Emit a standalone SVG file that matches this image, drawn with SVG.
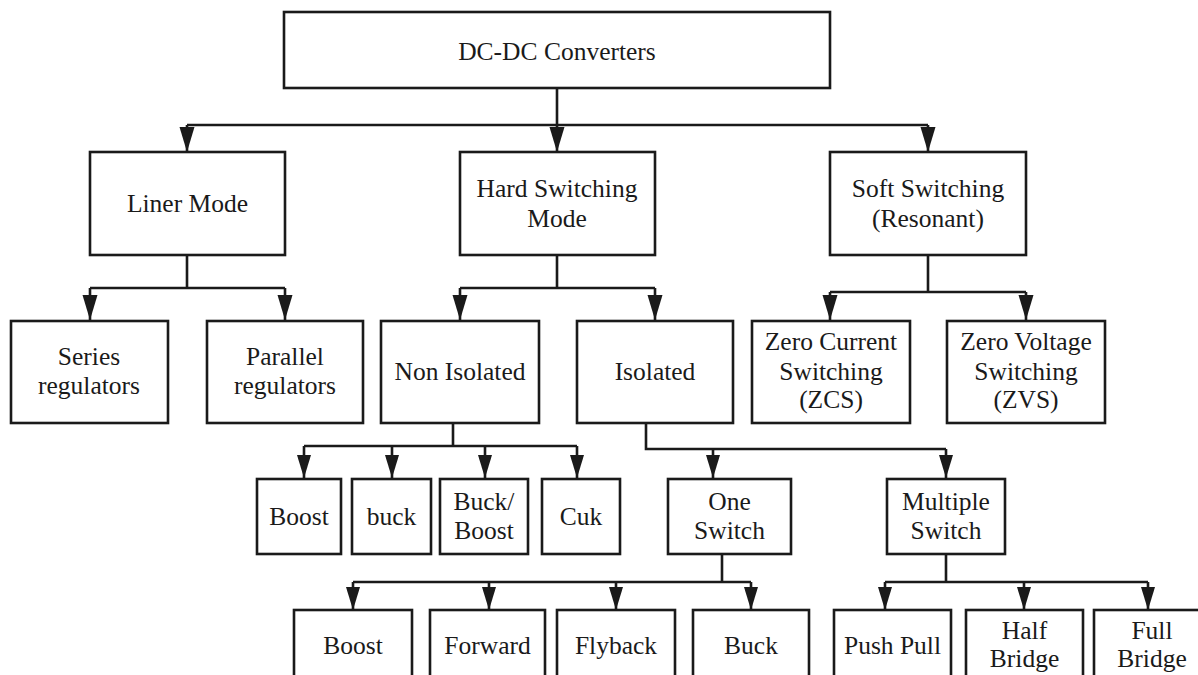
<svg xmlns="http://www.w3.org/2000/svg" width="1198" height="675" viewBox="0 0 1198 675">
<defs>
<style>
.box{fill:#fff;stroke:#1a1a1a;stroke-width:2.6}
.t{font-family:"Liberation Serif","Times New Roman",serif;font-size:25.5px;fill:#1a1a1a;text-anchor:middle}
.c{fill:none;stroke:#1a1a1a;stroke-width:2.6}
.ca{fill:none;stroke:#1a1a1a;stroke-width:2.6;marker-end:url(#aL)}
.cs{fill:none;stroke:#1a1a1a;stroke-width:2.6;marker-end:url(#aS)}
</style>
<marker id="aL" markerUnits="userSpaceOnUse" markerWidth="25" markerHeight="16" refX="25" refY="8" orient="auto" viewBox="0 0 25 16"><path d="M0,0.5 L25,8 L0,15.5 z" fill="#1a1a1a"/></marker>
<marker id="aS" markerUnits="userSpaceOnUse" markerWidth="23" markerHeight="15" refX="23" refY="7.5" orient="auto" viewBox="0 0 23 15"><path d="M0,0.5 L23,7.5 L0,14.5 z" fill="#1a1a1a"/></marker>
</defs>
<rect width="1198" height="675" fill="#fff"/>
<g id="connectors">
<path class="c" d="M557,88 V125 M187,125 H928"/>
<path class="ca" d="M187,125 V152"/>
<path class="ca" d="M557,125 V152"/>
<path class="ca" d="M928,125 V152"/>
<path class="c" d="M187,255 V288 M90,288 H285"/>
<path class="ca" d="M90,288 V320"/>
<path class="ca" d="M285,288 V320"/>
<path class="c" d="M557,255 V288 M460,288 H655"/>
<path class="ca" d="M460,288 V320"/>
<path class="ca" d="M655,288 V320"/>
<path class="c" d="M928,255 V292 M830,292 H1026"/>
<path class="ca" d="M830,292 V320"/>
<path class="ca" d="M1026,292 V320"/>
<path class="c" d="M453,423 V446 M304,446 H577"/>
<path class="cs" d="M304,446 V478"/>
<path class="cs" d="M392,446 V478"/>
<path class="cs" d="M485,446 V478"/>
<path class="cs" d="M577,446 V478"/>
<path class="c" d="M646,423 V449 H946"/>
<path class="cs" d="M713,449 V478"/>
<path class="cs" d="M946,449 V478"/>
<path class="c" d="M722,554 V582 M353,582 H751"/>
<path class="cs" d="M353,582 V610"/>
<path class="cs" d="M489,582 V610"/>
<path class="cs" d="M616,582 V610"/>
<path class="cs" d="M751,582 V610"/>
<path class="c" d="M946,554 V582 M885,582 H1148"/>
<path class="cs" d="M885,582 V610"/>
<path class="cs" d="M1024,582 V610"/>
<path class="cs" d="M1148,582 V610"/>
</g>
<g id="dcdc"><rect class="box" x="284" y="12" width="546" height="76"/><text class="t" x="557" y="60">DC-DC Converters</text></g>
<g id="liner"><rect class="box" x="90" y="152" width="195" height="103"/><text class="t" x="187.5" y="212">Liner Mode</text></g>
<g id="hard"><rect class="box" x="460" y="152" width="195" height="103"/><text class="t" x="557" y="197">Hard Switching</text><text class="t" x="557" y="227">Mode</text></g>
<g id="soft"><rect class="box" x="830" y="152" width="196" height="103"/><text class="t" x="928" y="197">Soft Switching</text><text class="t" x="928" y="227">(Resonant)</text></g>
<g id="series"><rect class="box" x="11" y="321" width="157" height="102"/><text class="t" x="89" y="365">Series</text><text class="t" x="89" y="394">regulators</text></g>
<g id="parallel"><rect class="box" x="207" y="321" width="156" height="102"/><text class="t" x="285" y="365">Parallel</text><text class="t" x="285" y="394">regulators</text></g>
<g id="nonisolated"><rect class="box" x="381" y="321" width="158" height="102"/><text class="t" x="460" y="380">Non Isolated</text></g>
<g id="isolated"><rect class="box" x="577" y="321" width="156" height="102"/><text class="t" x="655" y="380">Isolated</text></g>
<g id="zcs"><rect class="box" x="752" y="321" width="158" height="102"/><text class="t" x="831" y="350">Zero Current</text><text class="t" x="831" y="380">Switching</text><text class="t" x="831" y="408">(ZCS)</text></g>
<g id="zvs"><rect class="box" x="947" y="321" width="158" height="102"/><text class="t" x="1026" y="350">Zero Voltage</text><text class="t" x="1026" y="380">Switching</text><text class="t" x="1026" y="408">(ZVS)</text></g>
<g id="boost1"><rect class="box" x="257" y="479" width="84" height="75"/><text class="t" x="299" y="525">Boost</text></g>
<g id="buck1"><rect class="box" x="352" y="479" width="79" height="75"/><text class="t" x="391.5" y="525">buck</text></g>
<g id="buckboost"><rect class="box" x="440" y="479" width="88" height="75"/><text class="t" x="484" y="510">Buck/</text><text class="t" x="484" y="539">Boost</text></g>
<g id="cuk"><rect class="box" x="542" y="479" width="78" height="75"/><text class="t" x="581" y="525">Cuk</text></g>
<g id="oneswitch"><rect class="box" x="668" y="479" width="123" height="75"/><text class="t" x="729.5" y="510">One</text><text class="t" x="729.5" y="539">Switch</text></g>
<g id="multiswitch"><rect class="box" x="887" y="479" width="118" height="75"/><text class="t" x="946" y="510">Multiple</text><text class="t" x="946" y="539">Switch</text></g>
<g id="boost2"><rect class="box" x="294" y="610" width="118" height="80"/><text class="t" x="353" y="654">Boost</text></g>
<g id="forward"><rect class="box" x="430" y="610" width="115" height="80"/><text class="t" x="487.5" y="654">Forward</text></g>
<g id="flyback"><rect class="box" x="557" y="610" width="118" height="80"/><text class="t" x="616" y="654">Flyback</text></g>
<g id="buck2"><rect class="box" x="693" y="610" width="116" height="80"/><text class="t" x="751" y="654">Buck</text></g>
<g id="pushpull"><rect class="box" x="834" y="610" width="117" height="80"/><text class="t" x="892.5" y="654">Push Pull</text></g>
<g id="halfbridge"><rect class="box" x="966" y="610" width="117" height="80"/><text class="t" x="1024.5" y="639">Half</text><text class="t" x="1024.5" y="667">Bridge</text></g>
<g id="fullbridge"><rect class="box" x="1094" y="610" width="120" height="80"/><text class="t" x="1152" y="639">Full</text><text class="t" x="1152" y="667">Bridge</text></g>
</svg>
